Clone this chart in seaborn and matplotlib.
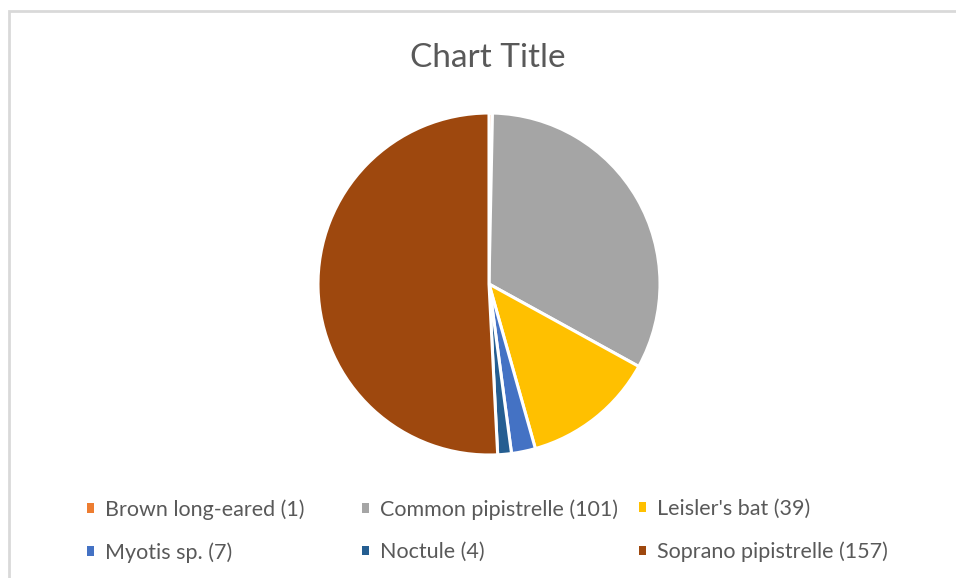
import matplotlib
matplotlib.use("Agg")
import matplotlib.pyplot as plt
import seaborn as sns
from matplotlib.patches import Rectangle

categories = ["Brown long-eared", "Common pipistrelle", "Leisler's bat",
              "Myotis sp.", "Noctule", "Soprano pipistrelle"]
counts = [1, 101, 39, 7, 4, 157]
colors = ["#ED7D31", "#A5A5A5", "#FFC000", "#4472C4", "#255E91", "#9E480E"]
labels = [f"{c} ({v})" for c, v in zip(categories, counts)]

sns.set_theme(style="white")
plt.rcParams['font.family'] = ['Lato', 'DejaVu Sans']

W, H = 956, 578
fig = plt.figure(figsize=(W / 100, H / 100), dpi=100)
fig.patch.set_facecolor("white")

# chart border (only top/left visible in the crop)
fig.patches.append(Rectangle((9 / W, -0.1), 1.2, (H - 11) / H + 0.1,
                             transform=fig.transFigure, fill=False,
                             edgecolor="#d9d9d9", linewidth=2))

cx, cy, r = 489, 284, 171
ax = fig.add_axes([(cx - r) / W, 1 - (cy + r) / H, 2 * r / W, 2 * r / H])
wedges, _ = ax.pie(counts, colors=colors, startangle=90, counterclock=False,
                   radius=1, wedgeprops=dict(edgecolor="white", linewidth=2.2))
ax.set_xlim(-1.0, 1.0)
ax.set_ylim(-1.0, 1.0)
ax.set_aspect("equal")
ax.axis("off")

fig.text(488 / W, 1 - 58 / H, "Chart Title", ha="center", va="center",
         fontsize=24, color="#595959")

col_x = [87, 362, 639]
for ci in range(3):
    idx = [ci, ci + 3]
    leg = fig.legend([wedges[i] for i in idx], [labels[i] for i in idx],
                     loc="upper left", bbox_to_anchor=(col_x[ci] / W, 1 - 499 / H),
                     frameon=False, fontsize=15.5, labelcolor="#595959",
                     handlelength=0.33, handleheight=0.33, handletextpad=0.5,
                     labelspacing=1.05, borderpad=0, borderaxespad=0)
    for h in leg.legend_handles:
        h.set_linewidth(0)

fig.savefig("out.png", dpi=100, facecolor="white")
